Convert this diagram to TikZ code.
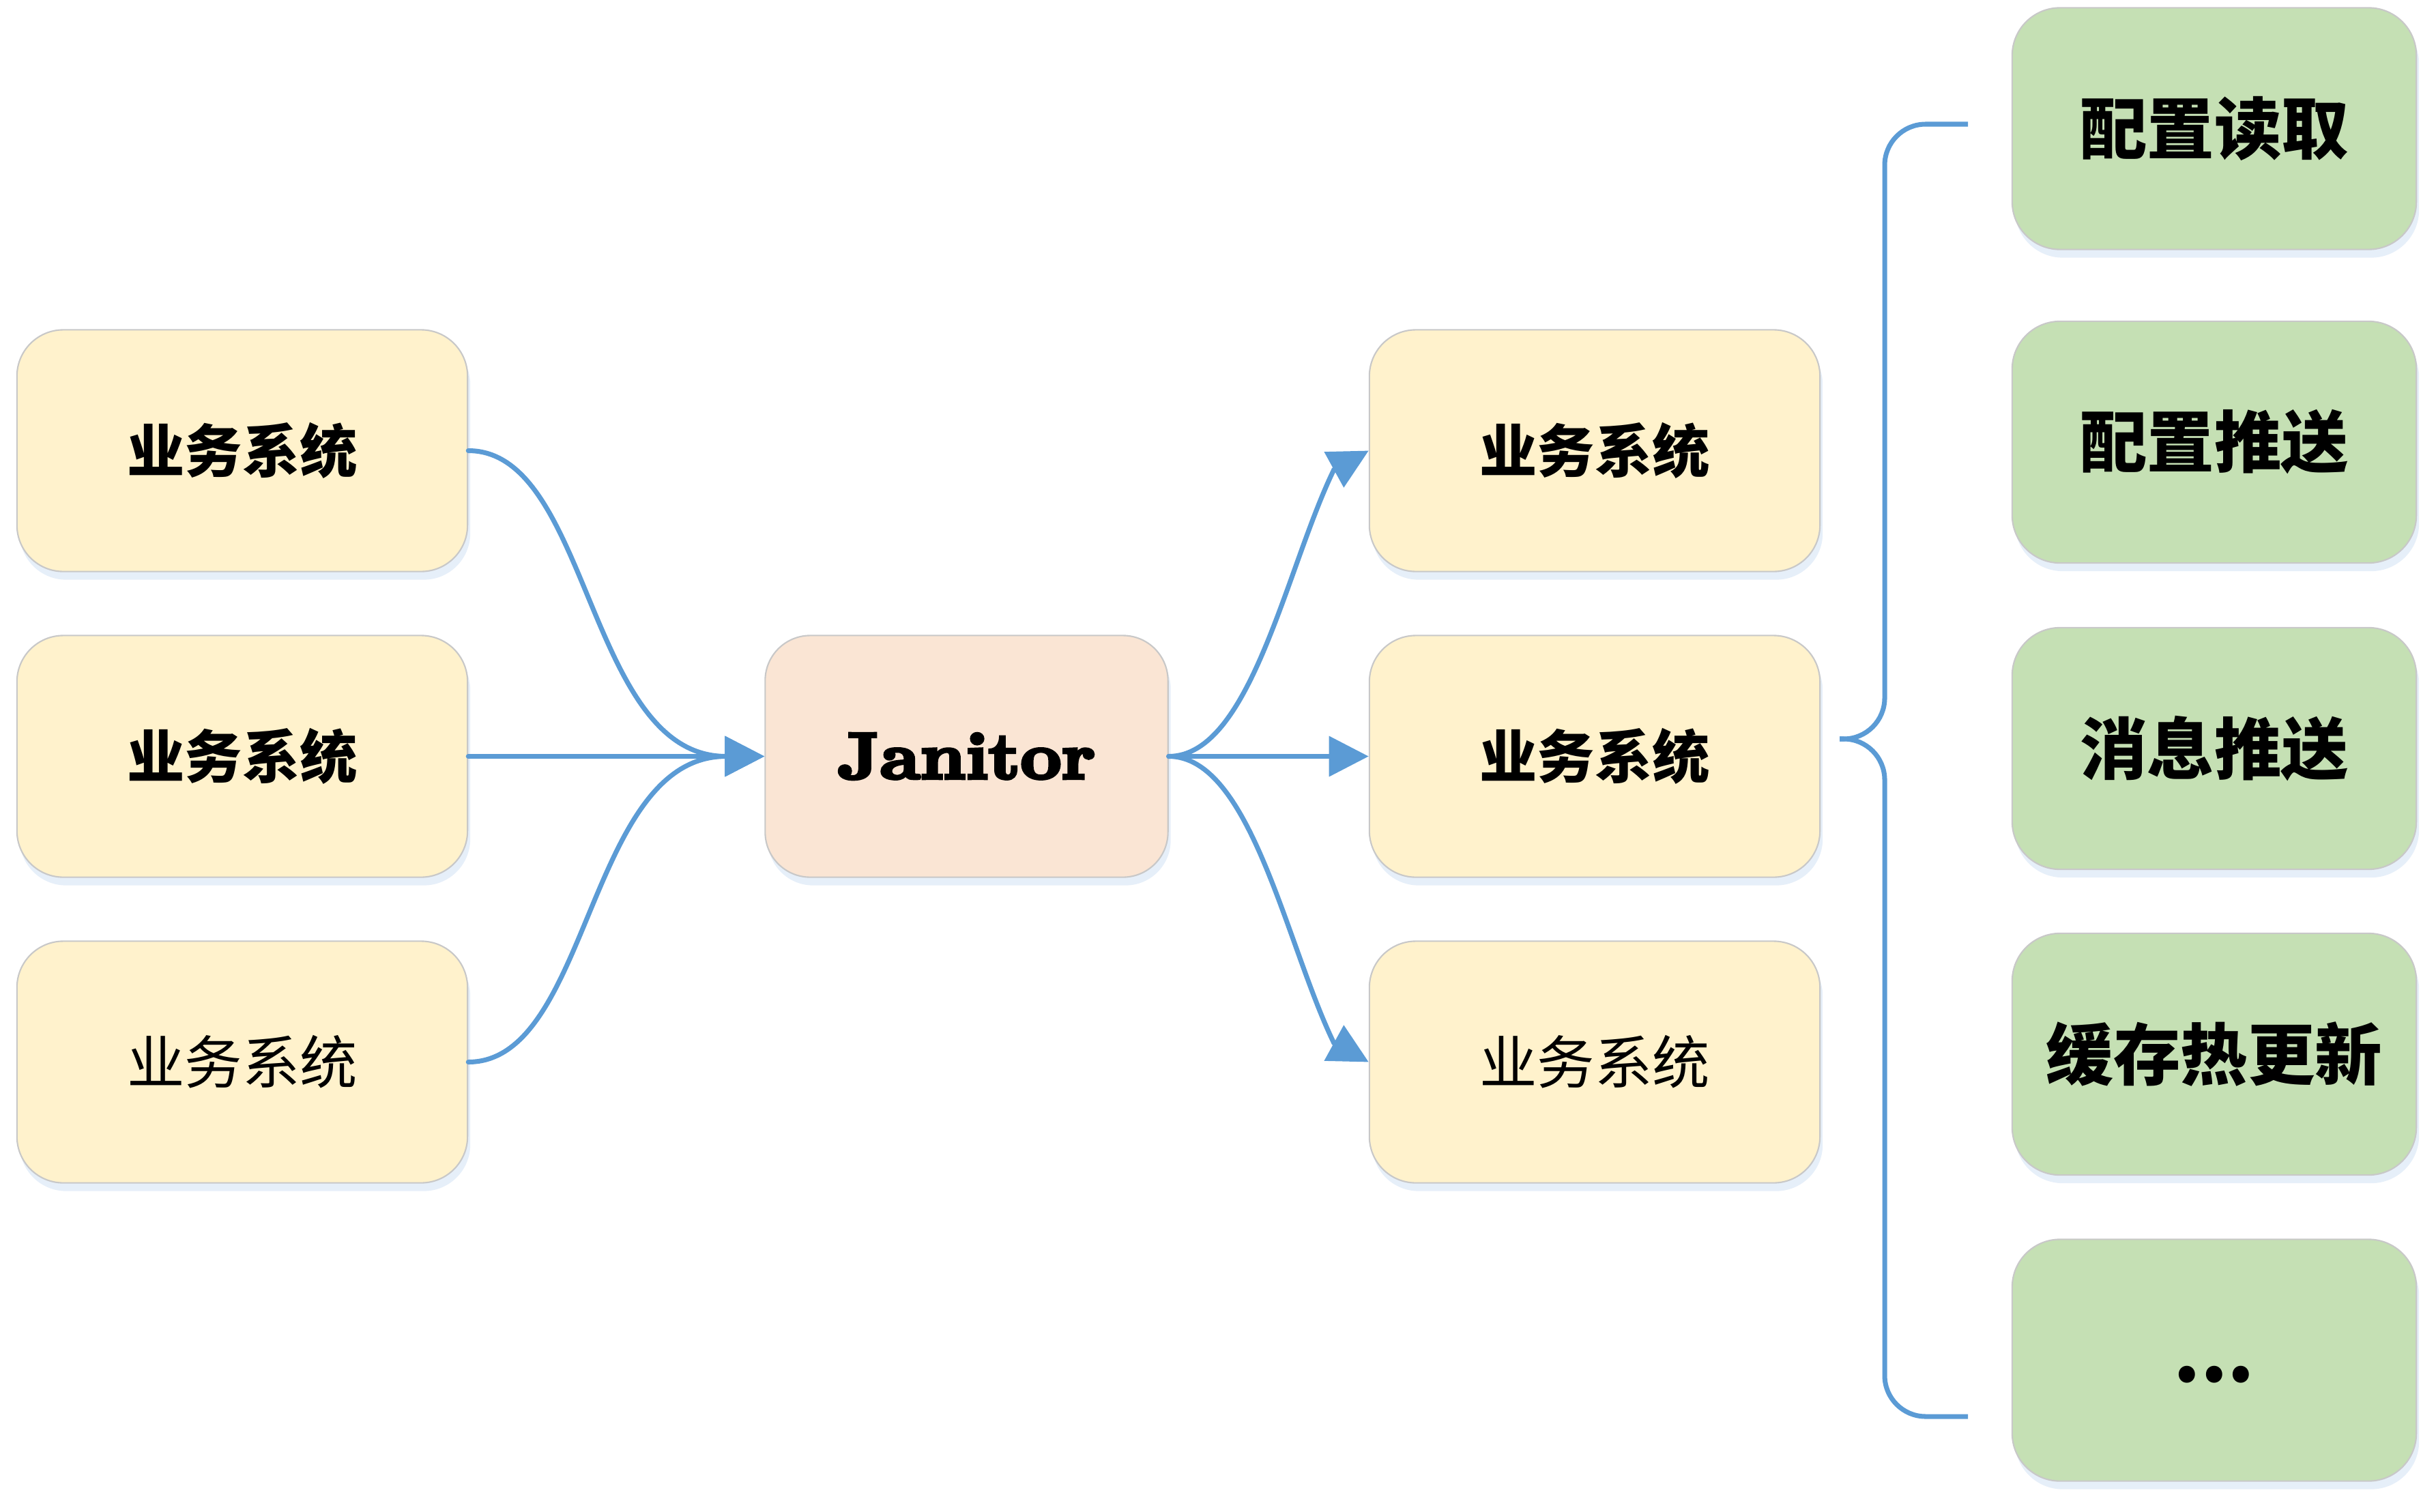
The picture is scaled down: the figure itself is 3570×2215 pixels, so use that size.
\documentclass[tikz,border=0pt]{standalone}
\usepackage{fontspec}
\newfontfamily\cjk{Noto Sans CJK SC}
\newfontfamily\janfont{lmroman10-bold}[Extension=.otf,FakeBold=5,FakeStretch=1.09]
\usetikzlibrary{arrows.meta,shadows,calc}
\definecolor{boxyellow}{HTML}{FFF2CC}
\definecolor{boxpeach}{HTML}{FAE5D4}
\definecolor{boxgreen}{HTML}{C5E0B4}
\definecolor{bordergray}{HTML}{C8C8C8}
\definecolor{lineblue}{HTML}{5B9BD5}
\definecolor{shadowblue}{HTML}{DCE8F6}
\begin{document}
\begin{tikzpicture}[x=0.01cm,y=-0.01cm,
  box/.style={rectangle, rounded corners=0.68cm, draw=bordergray, line width=0.6pt,
    minimum width=6.6cm, minimum height=3.54cm, inner sep=0pt,
    drop shadow={shadow xshift=0.04cm, shadow yshift=-0.12cm, fill=shadowblue, opacity=0.7}},
  ybox/.style={box, fill=boxyellow},
  jbox/.style={box, fill=boxpeach, minimum width=5.9cm, rounded corners=0.66cm},
  gbox/.style={box, fill=boxgreen, minimum width=5.92cm, rounded corners=0.7cm},
  cjkbold/.style={font=\cjk\bfseries\fontsize{24}{28}\selectfont},
  cjkreg/.style={font=\cjk\fontsize{24}{28}\selectfont},
  cjkgreen/.style={font=\cjk\bfseries\fontsize{28}{32}\selectfont},
  jantext/.style={font=\janfont\fontsize{27.3}{30}\selectfont},
  link/.style={draw=lineblue, line width=2pt, line cap=round,
    -{Triangle[length=0.58cm,width=0.58cm]}},
  bracestyle/.style={draw=lineblue, line width=2pt, rounded corners=0.6cm}
]
\useasboundingbox (0,0) rectangle (3570,2215);

% left systems
\node[ybox, cjkbold] (l1) at (355,660.5) {业务系统};
\node[ybox, cjkbold] (l2) at (355,1108.5) {业务系统};
\node[ybox, cjkreg]  (l3) at (355,1556.5) {业务系统};

% Janitor
\node[jbox, jantext] (jan) at (1416.5,1108.5) {Janitor};

% middle systems
\node[ybox, cjkbold] (m1) at (2337,660.5) {业务系统};
\node[ybox, cjkbold] (m2) at (2337,1108.5) {业务系统};
\node[ybox, cjkreg]  (m3) at (2337,1556.5) {业务系统};

% features
\node[gbox, cjkgreen] (g1) at (3245,188.5) {配置读取};
\node[gbox, cjkgreen] (g2) at (3245,648) {配置推送};
\node[gbox, cjkgreen] (g3) at (3245,1097) {消息推送};
\node[gbox, cjkgreen] (g4) at (3245,1545) {缓存热更新};
\node[gbox, font=\cjk\bfseries\fontsize{32}{36}\selectfont, text height=0.64cm, text depth=0pt] (g5) at (3245,1993.5) {...};

% connectors into Janitor
\draw[link] (l1.east) .. controls +(179,0) and +(-260,0) .. (jan.west);
\draw[link] (l2.east) -- (jan.west);
\draw[link] (l3.east) .. controls +(179,0) and +(-260,0) .. (jan.west);

% connectors out of Janitor
\coordinate (c1) at ($(m1.west)+(-51,28)$);
\coordinate (c3) at ($(m3.west)+(-51,-28)$);
\draw[link] (jan.east) .. controls +(120,0) and +(-70,144) .. (c1) -- (m1.west);
\draw[link] (jan.east) -- (m2.west);
\draw[link] (jan.east) .. controls +(120,0) and +(-70,-144) .. (c3) -- (m3.west);

% brace
\coordinate (btop) at (2884,182);
\coordinate (bbot) at (2884,2076);
\coordinate (btip) at (2696,1083);
\draw[bracestyle] (btop) -- (2762,182) -- (2762,1083) -- (btip);
\draw[bracestyle] (btip) -- (2762,1083) -- (2762,2076) -- (bbot);
\end{tikzpicture}
\end{document}
